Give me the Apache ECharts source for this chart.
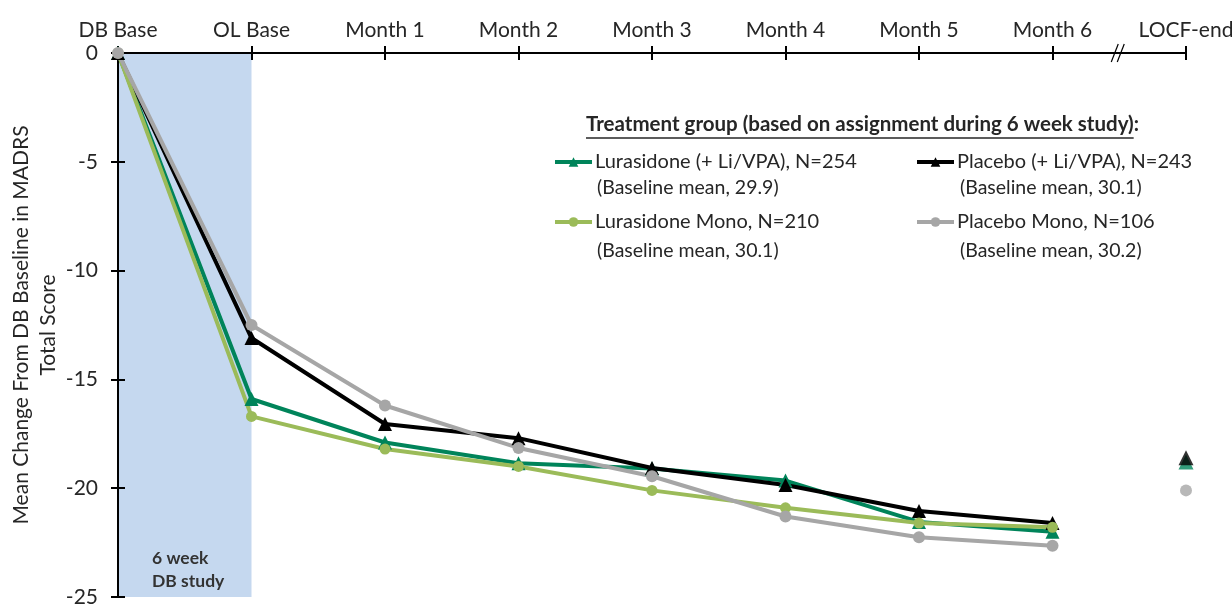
<!DOCTYPE html>
<html>
<head>
<meta charset="utf-8">
<script src="https://cdn.jsdelivr.net/npm/echarts@6/dist/echarts.min.js"></script>
<style>
  html, body { margin: 0; padding: 0; background: #fff; }
  #chart { width: 1232px; height: 607px; }
</style>
</head>
<body>
<div id="chart"></div>
<script>
// Visit labels along the top axis
const visits = ['DB Base', 'OL Base', 'Month 1', 'Month 2', 'Month 3', 'Month 4', 'Month 5', 'Month 6', 'LOCF-end'];
const yTicks = [0, -5, -10, -15, -20, -25];

// Mean change from DB baseline, DB Base through Month 6
const luraAdjunct = [0, -15.9, -17.9, -18.85, -19.1, -19.65, -21.55, -22.0];
const placeboAdjunct = [0, -13.1, -17.05, -17.7, -19.07, -19.85, -21.05, -21.6];
const luraMono = [0, -16.7, -18.2, -19.0, -20.1, -20.9, -21.6, -21.8];
const placeboMono = [0, -12.5, -16.2, -18.15, -19.45, -21.3, -22.25, -22.65];

// LOCF endpoint values
const locfLuraAdjunct = -18.8;
const locfPlaceboAdjunct = -18.6;
const locfPlaceboMono = -20.1;

const groupNames = [
  'Lurasidone (+ Li/VPA), N=254',
  'Placebo (+ Li/VPA), N=243',
  'Lurasidone Mono, N=210',
  'Placebo Mono, N=106'
];
const baselineNotes = ['(Baseline mean, 29.9)', '(Baseline mean, 30.1)', '(Baseline mean, 30.1)', '(Baseline mean, 30.2)'];
const legendTitle = 'Treatment group (based on assignment during 6 week study)';

const FONT = 'Lato, "Noto Sans", sans-serif';
const TXT = '#262626';
const C_GREEN = '#00845A';
const C_LIGHT = '#9BBB59';
const C_GRAY = '#A6A6A6';
const C_BLACK = '#000000';

const chart = echarts.init(document.getElementById('chart'), null, { renderer: 'canvas' });

function lineSeries(name, data, color, symbol, size) {
  return {
    name: name,
    type: 'line',
    data: data,
    z: 2,
    symbol: symbol,
    symbolSize: size,
    showSymbol: true,
    lineStyle: { color: color, width: 4 },
    itemStyle: { color: color },
    emphasis: { disabled: true }
  };
}
function endPoint(name, value, color, symbol, size) {
  return {
    name: name,
    type: 'scatter',
    data: [[visits[visits.length - 1], value]],
    z: 2,
    symbol: symbol,
    symbolSize: size,
    itemStyle: { color: color },
    emphasis: { disabled: true }
  };
}

const axisLabelStyle = { fontFamily: FONT, fontSize: 21, color: TXT };

const legendBase = {
  orient: 'vertical', top: 147,
  itemWidth: 37, itemHeight: 12, itemGap: 40,
  lineStyle: { width: 4 },
  textStyle: { fontFamily: FONT, fontSize: 20, color: TXT, padding: [0, 0, 0, -2] },
  selectedMode: false
};

const option = {
  animation: false,
  grid: { left: 118, right: 46, top: 53, bottom: 10, containLabel: false, outerBoundsMode: 'none' },
  xAxis: [
    {
      type: 'category', data: visits, position: 'top', boundaryGap: false, z: 1,
      axisLine: { show: true, lineStyle: { color: '#000', width: 2 } },
      axisTick: { show: true, inside: false, length: 7, lineStyle: { color: '#000', width: 2 } },
      axisLabel: Object.assign({ margin: 12, interval: 0 }, axisLabelStyle),
      splitLine: { show: false }
    },
    {
      type: 'category', data: visits, position: 'top', boundaryGap: false, z: 1,
      axisLine: { show: false },
      axisTick: { show: true, inside: true, length: 7, lineStyle: { color: '#000', width: 2 } },
      axisLabel: { show: false },
      splitLine: { show: false }
    }
  ],
  yAxis: [
    {
      type: 'value', min: -25, max: 0, interval: 5, z: 1, position: 'left',
      axisLine: { show: true, lineStyle: { color: '#000', width: 2 } },
      axisTick: { show: true, inside: false, length: 7, lineStyle: { color: '#000', width: 2 } },
      axisLabel: Object.assign({ margin: 20, formatter: v => (yTicks.indexOf(v) >= 0 ? String(v) : '') }, axisLabelStyle),
      splitLine: { show: false },
      name: 'Mean Change From DB Baseline in MADRS\nTotal Score',
      nameLocation: 'middle', nameRotate: 90, nameGap: 56, nameMoveOverlap: false,
      nameTextStyle: { fontFamily: FONT, fontSize: 21, color: TXT, lineHeight: 27 }
    },
    {
      type: 'value', min: -25, max: 0, interval: 5, z: 1, position: 'left',
      axisLine: { show: false },
      axisTick: { show: true, inside: true, length: 7, lineStyle: { color: '#000', width: 2 } },
      axisLabel: { show: false },
      splitLine: { show: false }
    }
  ],
  legend: [
    Object.assign({ data: [groupNames[0], groupNames[2]], left: 548 }, legendBase),
    Object.assign({ data: [groupNames[1], groupNames[3]], left: 910 }, legendBase)
  ],
  series: [
    {
      name: 'study period', type: 'line', data: visits.map(() => null), z: 0,
      showSymbol: false, silent: true,
      markArea: {
        silent: true,
        itemStyle: { color: '#C5D8EF' },
        label: {
          show: true, position: [34, 494], align: 'left', verticalAlign: 'top',
          formatter: '6 week\nDB study',
          fontFamily: FONT, fontSize: 17.5, fontWeight: 'bold', color: '#333', lineHeight: 23
        },
        data: [[{ xAxis: visits[0], yAxis: -25 }, { xAxis: visits[1], yAxis: 0 }]]
      }
    },
    lineSeries(groupNames[0], luraAdjunct, C_GREEN, 'triangle', 14),
    endPoint('locf-lura-adj', locfLuraAdjunct, C_GREEN, 'triangle', 15),
    lineSeries(groupNames[1], placeboAdjunct, C_BLACK, 'triangle', 14),
    endPoint('locf-placebo-adj', locfPlaceboAdjunct, C_BLACK, 'triangle', 15),
    lineSeries(groupNames[2], luraMono, C_LIGHT, 'circle', 11),
    lineSeries(groupNames[3], placeboMono, C_GRAY, 'circle', 12),
    endPoint('locf-placebo-mono', locfPlaceboMono, C_GRAY, 'circle', 12)
  ]
};

chart.setOption(option);

// Legend heading, baseline notes and the axis break marks
(function addAnnotations() {
  const titleFont = 'bold 20.5px ' + FONT;
  const ctx = document.createElement('canvas').getContext('2d');
  ctx.font = titleFont;
  const titleW = ctx.measureText(legendTitle).width;
  const titleX = 586, titleY = 127;

  const m6 = chart.convertToPixel({ xAxisIndex: 0 }, visits[7]);
  const end = chart.convertToPixel({ xAxisIndex: 0 }, visits[8]);
  const axisY = chart.convertToPixel({ yAxisIndex: 0 }, 0);
  const bx = m6 + (end - m6) * 0.5;

  const noteStyle = { fontFamily: FONT, fontSize: 19.5, fill: TXT, textVerticalAlign: 'middle' };

  chart.setOption({
    graphic: [
      { type: 'text', left: titleX, top: titleY - 13, z: 10,
        style: { text: legendTitle + ':', font: titleFont, fill: TXT } },
      { type: 'line', z: 10, shape: { x1: titleX, y1: titleY + 11, x2: titleX + titleW, y2: titleY + 11 },
        style: { stroke: TXT, lineWidth: 1.5 } },
      { type: 'text', x: 597, y: 188, z: 10, style: Object.assign({ text: baselineNotes[0] }, noteStyle) },
      { type: 'text', x: 960, y: 188, z: 10, style: Object.assign({ text: baselineNotes[1] }, noteStyle) },
      { type: 'text', x: 597, y: 251, z: 10, style: Object.assign({ text: baselineNotes[2] }, noteStyle) },
      { type: 'text', x: 960, y: 251, z: 10, style: Object.assign({ text: baselineNotes[3] }, noteStyle) },
      { type: 'line', z: 10, shape: { x1: bx - 8, y1: axisY + 9, x2: bx - 1, y2: axisY - 9 },
        style: { stroke: '#000', lineWidth: 1.2 } },
      { type: 'line', z: 10, shape: { x1: bx - 2, y1: axisY + 9, x2: bx + 5, y2: axisY - 9 },
        style: { stroke: '#000', lineWidth: 1.2 } }
    ]
  });
})();
</script>
</body>
</html>
